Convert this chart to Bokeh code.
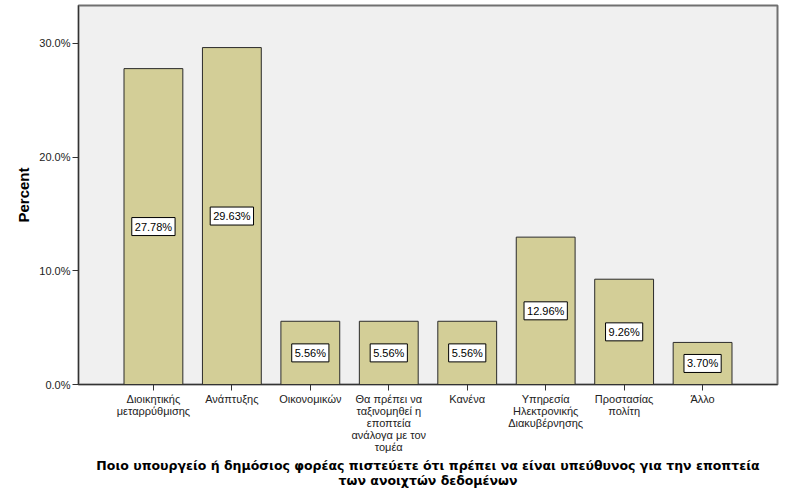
from bokeh.plotting import figure
from bokeh.models import ColumnDataSource, Label, FixedTicker, Range1d
from bokeh.embed import file_html
from bokeh.resources import INLINE

categories = [
    "Διοικητικής\nμεταρρύθμισης",
    "Ανάπτυξης",
    "Οικονομικών",
    "Θα πρέπει να\nταξινομηθεί η\nεποπτεία\nανάλογα με τον\nτομέα",
    "Κανένα",
    "Υπηρεσία\nΗλεκτρονικής\nΔιακυβέρνησης",
    "Προστασίας\nπολίτη",
    "Άλλο",
]
percent = [27.78, 29.63, 5.56, 5.56, 5.56, 12.96, 9.26, 3.70]
y_ticks = [0, 10, 20, 30]
y_tick_labels = ["0.0%", "10.0%", "20.0%", "30.0%"]

xs = list(range(1, len(categories) + 1))
src = ColumnDataSource(dict(x=xs, top=percent))

p = figure(
    frame_width=699, frame_height=379,
    min_border_left=78, min_border_right=4, min_border_top=5, min_border_bottom=5,
    x_range=Range1d(0.045, 8.955), y_range=Range1d(0, 33.33),
    output_backend="svg", toolbar_location=None,
    background_fill_color="#F0F0F0", border_fill_color="white",
)
p.outline_line_color = "#707070"
p.outline_line_width = 2
p.grid.visible = False

p.vbar(x="x", top="top", width=0.75, source=src,
       fill_color="#D3CE97", line_color="#2b2b2b", line_width=1)

for x, v in zip(xs, percent):
    p.add_layout(Label(x=x, y=v / 2, text="%.2f%%" % v,
                       text_align="center", text_baseline="middle",
                       text_font="Liberation Sans", text_font_size="11px", text_color="black",
                       background_fill_color="white", border_line_color="black",
                       border_line_width=1, padding=3))

# y axis
p.yaxis.ticker = FixedTicker(ticks=y_ticks)
p.yaxis.major_label_overrides = {t: l for t, l in zip(y_ticks, y_tick_labels)}
p.yaxis.axis_label = "Percent"
p.yaxis.axis_label_text_font = "Liberation Sans"
p.yaxis.axis_label_text_font_style = "bold"
p.yaxis.axis_label_text_font_size = "15px"
p.yaxis.axis_label_text_color = "black"
p.yaxis.axis_label_standoff = 4
p.yaxis.major_label_text_font = "Liberation Sans"
p.yaxis.major_label_text_font_size = "11px"
p.yaxis.major_label_text_color = "#222222"
p.yaxis.major_label_standoff = 2
p.yaxis.major_tick_in = 0
p.yaxis.major_tick_out = 6
p.yaxis.minor_tick_line_color = None
p.yaxis.axis_line_color = "#333333"
p.yaxis.major_tick_line_color = "#333333"

# x axis
p.xaxis.ticker = FixedTicker(ticks=xs)
p.xaxis.major_label_overrides = {x: c for x, c in zip(xs, categories)}
p.xaxis.axis_label = ("Ποιο υπουργείο ή δημόσιος φορέας πιστεύετε ότι πρέπει να είναι υπεύθυνος για την εποπτεία\n"
                      "των ανοιχτών δεδομένων")
p.xaxis.axis_label_text_font = "DejaVu Sans"
p.xaxis.axis_label_text_font_style = "bold"
p.xaxis.axis_label_text_font_size = "12.5px"
p.xaxis.axis_label_text_line_height = 1.05
p.xaxis.axis_label_text_color = "black"
p.xaxis.axis_label_standoff = 2
p.xaxis.major_label_text_font = "Liberation Sans"
p.xaxis.major_label_text_font_size = "11px"
p.xaxis.major_label_text_line_height = 1.0
p.xaxis.major_label_text_color = "#222222"
p.xaxis.major_label_standoff = 2
p.xaxis.major_tick_in = 0
p.xaxis.major_tick_out = 6
p.xaxis.minor_tick_line_color = None
p.xaxis.axis_line_color = "#333333"
p.xaxis.major_tick_line_color = "#333333"

open("out.html", "w").write(file_html(p, INLINE))
